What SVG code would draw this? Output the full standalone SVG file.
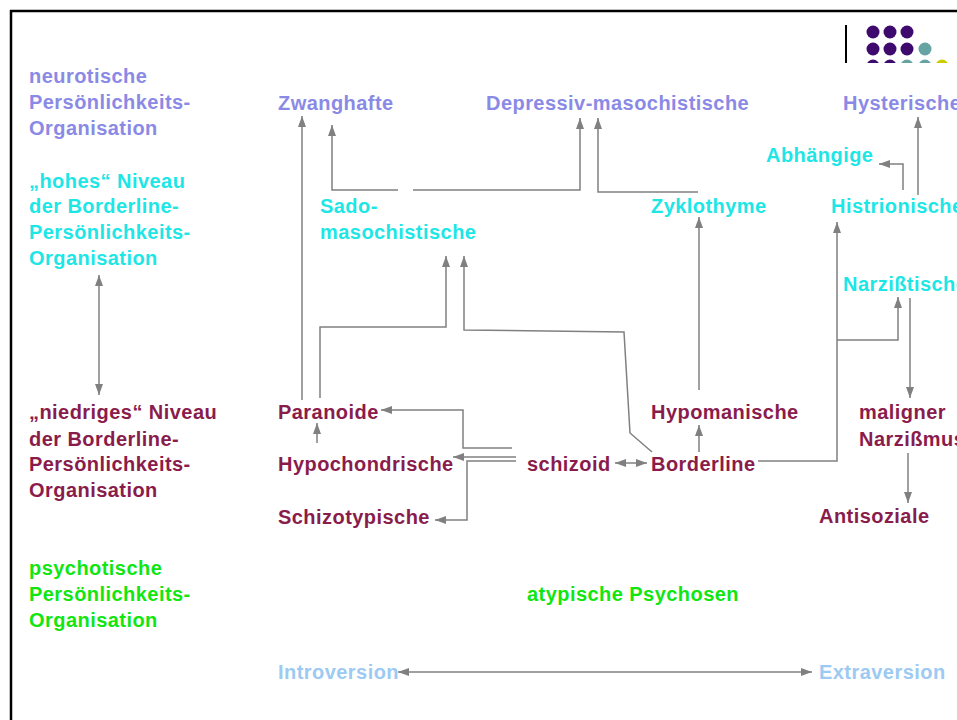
<svg xmlns="http://www.w3.org/2000/svg" width="957" height="720" viewBox="0 0 957 720">
<defs>
<style>
text{font-family:"Liberation Sans",Arial,sans-serif;font-weight:bold;font-size:20px;letter-spacing:0.45px}
.lav{fill:#8a8ae6}
.cy{fill:#1de6e6}
.mr{fill:#8a1c4c}
.gr{fill:#11e611}
.lb{fill:#9ccaf2}
.c{fill:none;stroke:#808080;stroke-width:1.5}
.a{marker-end:url(#ah)}
.b{marker-start:url(#ah);marker-end:url(#ah)}
.dp{fill:#3f0a6e}
.dt{fill:#66a3a3}
.dy{fill:#cccc00}
</style>
<marker id="ah" viewBox="0 0 11 8" refX="11" refY="4" markerWidth="11" markerHeight="8" markerUnits="userSpaceOnUse" orient="auto-start-reverse">
<path d="M0,0 L11,4 L0,8 Z" fill="#808080"/>
</marker>
<clipPath id="dc"><rect x="850" y="15" width="107" height="48"/></clipPath>
</defs>
<rect width="957" height="720" fill="#ffffff"/>
<g id="frame">
<line x1="10" y1="11" x2="957" y2="11" stroke="#000" stroke-width="2.5"/>
<line x1="11" y1="10" x2="11" y2="720" stroke="#000" stroke-width="2.5"/>
<line x1="846" y1="25" x2="846" y2="63" stroke="#000" stroke-width="2"/>
<g clip-path="url(#dc)">
<circle class="dp" cx="873" cy="32" r="6.5"/><circle class="dp" cx="890" cy="32" r="6.5"/><circle class="dp" cx="907" cy="32" r="6.5"/>
<circle class="dp" cx="873" cy="49" r="6.5"/><circle class="dp" cx="890" cy="49" r="6.5"/><circle class="dp" cx="907" cy="49" r="6.5"/><circle class="dt" cx="925" cy="49" r="6.5"/>
<circle class="dp" cx="873" cy="66" r="6.5"/><circle class="dp" cx="890" cy="66" r="6.5"/><circle class="dt" cx="907" cy="66" r="6.5"/><circle class="dt" cx="925" cy="66" r="6.5"/><circle class="dy" cx="942" cy="66" r="6.5"/>
</g>
</g>
<g id="connectors">
<path class="c b" d="M99,275 V395"/>
<path class="c a" d="M302,400 V116"/>
<path class="c a" d="M320,398 V327 H446 V256"/>
<path class="c a" d="M652,452 L630,433 L624,332 L464,330 V256"/>
<path class="c a" d="M398,190 H332 V125"/>
<path class="c a" d="M413,190 H580 V118"/>
<path class="c a" d="M698,192 H598 V118"/>
<path class="c a" d="M699,390 V217"/>
<path class="c a" d="M699,452 V425"/>
<path class="c b" d="M615,463 H647"/>
<path class="c a" d="M758,461 H837 V222"/>
<path class="c a" d="M837,340 H898 V297"/>
<path class="c a" d="M910,298 V398"/>
<path class="c a" d="M908,453 V503"/>
<path class="c a" d="M918,195 V117"/>
<path class="c a" d="M903,190 V164 H879"/>
<path class="c a" d="M317,443 V423"/>
<path class="c a" d="M512,448 H463 V410 H381"/>
<path class="c a" d="M516,457 H453"/>
<path class="c a" d="M516,461 H467 V520 H435"/>
<path class="c b" d="M398,672 H812"/>
</g>
<g id="neurotisch"><text class="lav" x="29" y="83">neurotische</text><text class="lav" x="29" y="109">Persönlichkeits-</text><text class="lav" x="29" y="135">Organisation</text></g>
<g id="hohes"><text class="cy" x="29" y="188">„hohes“ Niveau</text><text class="cy" x="29" y="213">der Borderline-</text><text class="cy" x="29" y="239">Persönlichkeits-</text><text class="cy" x="29" y="265">Organisation</text></g>
<g id="niedriges"><text class="mr" x="29" y="419">„niedriges“ Niveau</text><text class="mr" x="29" y="446">der Borderline-</text><text class="mr" x="29" y="471">Persönlichkeits-</text><text class="mr" x="29" y="497">Organisation</text></g>
<g id="psychotisch"><text class="gr" x="29" y="575">psychotische</text><text class="gr" x="29" y="601">Persönlichkeits-</text><text class="gr" x="29" y="627">Organisation</text></g>
<g id="zwanghafte"><text class="lav" x="278" y="110">Zwanghafte</text></g>
<g id="depressiv"><text class="lav" x="486" y="110">Depressiv-masochistische</text></g>
<g id="hysterische"><text class="lav" x="843" y="110">Hysterische</text></g>
<g id="abhaengige"><text class="cy" x="766" y="162">Abhängige</text></g>
<g id="sado"><text class="cy" x="320" y="213">Sado-</text><text class="cy" x="320" y="239">masochistische</text></g>
<g id="zyklothyme"><text class="cy" x="651" y="213">Zyklothyme</text></g>
<g id="histrionische"><text class="cy" x="831" y="213">Histrionische</text></g>
<g id="narzisstische"><text class="cy" x="843" y="291">Narzißtische</text></g>
<g id="paranoide"><text class="mr" x="278" y="419">Paranoide</text></g>
<g id="hypochondrische"><text class="mr" x="278" y="471">Hypochondrische</text></g>
<g id="schizotypische"><text class="mr" x="278" y="524">Schizotypische</text></g>
<g id="schizoid"><text class="mr" x="527" y="471">schizoid</text></g>
<g id="borderline"><text class="mr" x="651" y="471">Borderline</text></g>
<g id="hypomanische"><text class="mr" x="651" y="419">Hypomanische</text></g>
<g id="maligner"><text class="mr" x="859" y="419">maligner</text><text class="mr" x="859" y="446">Narzißmus</text></g>
<g id="antisoziale"><text class="mr" x="819" y="523">Antisoziale</text></g>
<g id="atypisch"><text class="gr" x="527" y="601">atypische Psychosen</text></g>
<g id="introversion"><text class="lb" x="278" y="679">Introversion</text></g>
<g id="extraversion"><text class="lb" x="819" y="679">Extraversion</text></g>
</svg>
